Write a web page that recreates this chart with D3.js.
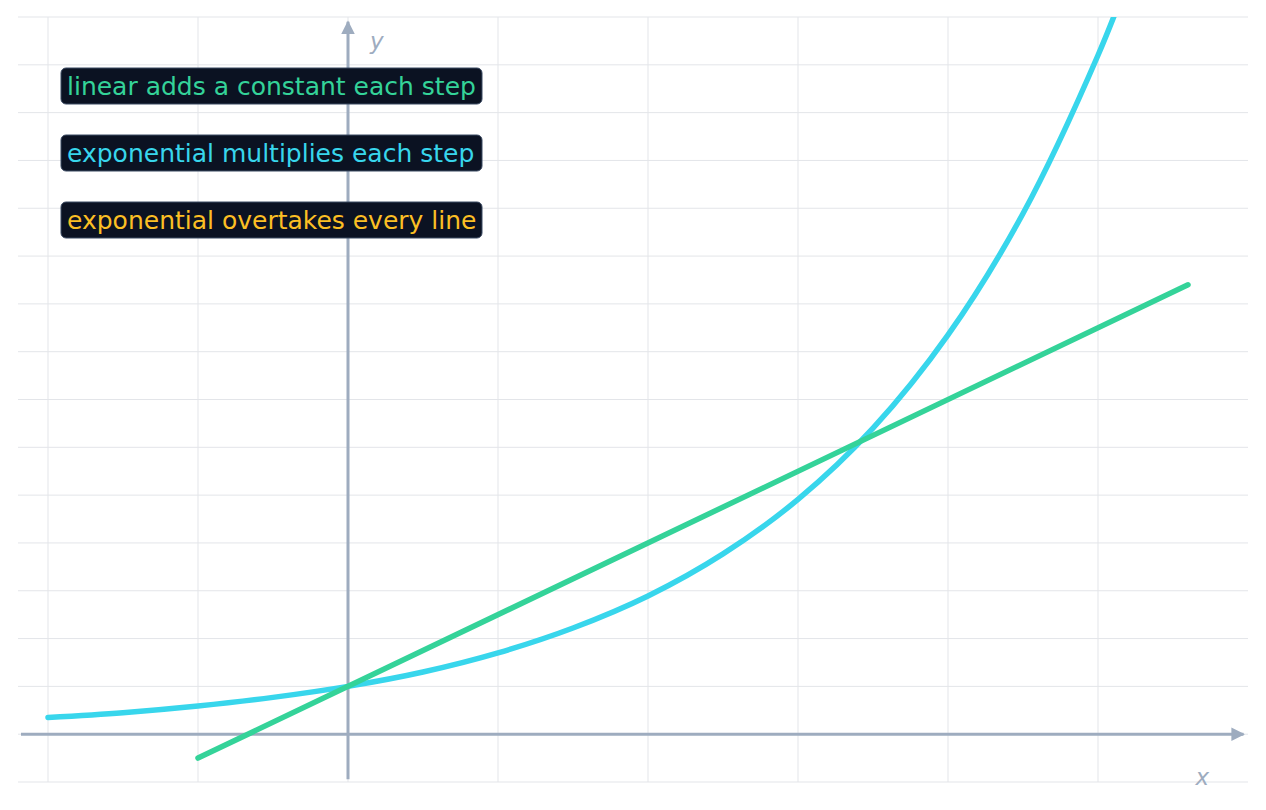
<!DOCTYPE html>
<html>
<head>
<meta charset="utf-8">
<script src="https://cdn.jsdelivr.net/npm/d3@7"></script>
<style>
  body { margin: 0; background: #fff; }
</style>
</head>
<body>
<div id="wrapper"></div>
<script>
// values
const linearX = [-1, 5.6]
const linearY = [-0.5, 9.4]

const expX = [-2, -1.5, -1, -0.5, 0, 0.5, 1, 1.5, 2, 2.5, 3, 3.5, 4, 4.5, 5, 5.25]
const expY = [0.35, 0.45, 0.59, 0.77, 1, 1.30, 1.70, 2.22, 2.89, 3.77, 4.91, 6.40, 8.35, 10.89, 14.2, 16.2]

const gridX = [-2, -1, 0, 1, 2, 3, 4, 5]
const gridY = [-1, 0, 1, 2, 3, 4, 5, 6, 7, 8, 9, 10, 11, 12, 13, 14, 15]

const notes = ["linear adds a constant each step", "exponential multiplies each step", "exponential overtakes every line"]
const noteColors = ["#34d399", "#38d6ec", "#fbbf24"]

const width = 1266
const height = 810
const fontFamily = "'DejaVu Sans', sans-serif"

const svg = d3.select("#wrapper")
  .append("svg")
    .attr("width", width)
    .attr("height", height)
    .style("display", "block")

const xScale = d3.scaleLinear().domain([-2.2, 6]).range([18, 1248])
const yScale = d3.scaleLinear().domain([-1, 15]).range([782, 17])

// grid
svg.append("g").selectAll("line")
  .data(gridX)
  .enter().append("line")
    .attr("x1", d => xScale(d))
    .attr("x2", d => xScale(d))
    .attr("y1", yScale(15))
    .attr("y2", yScale(-1))
    .attr("stroke", "#e3e5e9")
    .attr("stroke-width", 1)

svg.append("g").selectAll("line")
  .data(gridY)
  .enter().append("line")
    .attr("x1", xScale(-2.2))
    .attr("x2", xScale(6))
    .attr("y1", d => yScale(d))
    .attr("y2", d => yScale(d))
    .attr("stroke", "#e3e5e9")
    .attr("stroke-width", 1)

// axes
const axisColor = "#9eacbf"
const defs = svg.append("defs")
defs.append("marker")
  .attr("id", "arrow")
  .attr("viewBox", "0 0 10 10")
  .attr("refX", 9)
  .attr("refY", 5)
  .attr("markerWidth", 4.5)
  .attr("markerHeight", 4.5)
  .attr("orient", "auto")
  .append("path")
    .attr("d", "M0,0 L10,5 L0,10 z")
    .attr("fill", axisColor)

defs.append("clipPath")
  .attr("id", "plot")
  .append("rect")
    .attr("x", xScale(-2.2))
    .attr("y", yScale(15))
    .attr("width", xScale(6) - xScale(-2.2))
    .attr("height", yScale(-1) - yScale(15))

svg.append("line")
  .attr("x1", xScale(-2.18))
  .attr("x2", xScale(5.97))
  .attr("y1", yScale(0))
  .attr("y2", yScale(0))
  .attr("stroke", axisColor)
  .attr("stroke-width", 3)
  .attr("marker-end", "url(#arrow)")

svg.append("line")
  .attr("x1", xScale(0))
  .attr("x2", xScale(0))
  .attr("y1", yScale(-0.94))
  .attr("y2", yScale(14.9))
  .attr("stroke", axisColor)
  .attr("stroke-width", 3)
  .attr("marker-end", "url(#arrow)")

svg.append("text")
  .attr("x", xScale(0) + 22)
  .attr("y", yScale(14.33))
  .attr("font-family", fontFamily)
  .attr("font-size", 23)
  .attr("font-style", "italic")
  .attr("fill", axisColor)
  .text("y")

svg.append("text")
  .attr("x", xScale(5.65))
  .attr("y", yScale(-1.07))
  .attr("font-family", fontFamily)
  .attr("font-size", 23)
  .attr("font-style", "italic")
  .attr("fill", axisColor)
  .text("x")

// series
const line = d3.line()
  .x(d => xScale(d[0]))
  .y(d => yScale(d[1]))

const plot = svg.append("g").attr("clip-path", "url(#plot)")

plot.append("path")
  .datum(d3.zip(expX, expY))
  .attr("d", line.curve(d3.curveCatmullRom))
  .attr("fill", "none")
  .attr("stroke", "#38d6ec")
  .attr("stroke-width", 5.5)
  .attr("stroke-linecap", "round")

plot.append("path")
  .datum(d3.zip(linearX, linearY))
  .attr("d", line.curve(d3.curveLinear))
  .attr("fill", "none")
  .attr("stroke", "#34d399")
  .attr("stroke-width", 5.5)
  .attr("stroke-linecap", "round")

// notes
const noteGroup = svg.append("g").selectAll("g")
  .data(notes)
  .enter().append("g")
    .attr("transform", (d, i) => `translate(61, ${68 + i * 67})`)

noteGroup.append("rect")
  .attr("width", 421)
  .attr("height", 36)
  .attr("rx", 5)
  .attr("fill", "#0b1222")
  .attr("stroke", "#3b4a63")
  .attr("stroke-width", 1)

noteGroup.append("text")
  .attr("x", 6)
  .attr("y", 26.5)
  .attr("font-family", fontFamily)
  .attr("font-size", 25)
  .attr("fill", (d, i) => noteColors[i])
  .text(d => d)
</script>
</body>
</html>
